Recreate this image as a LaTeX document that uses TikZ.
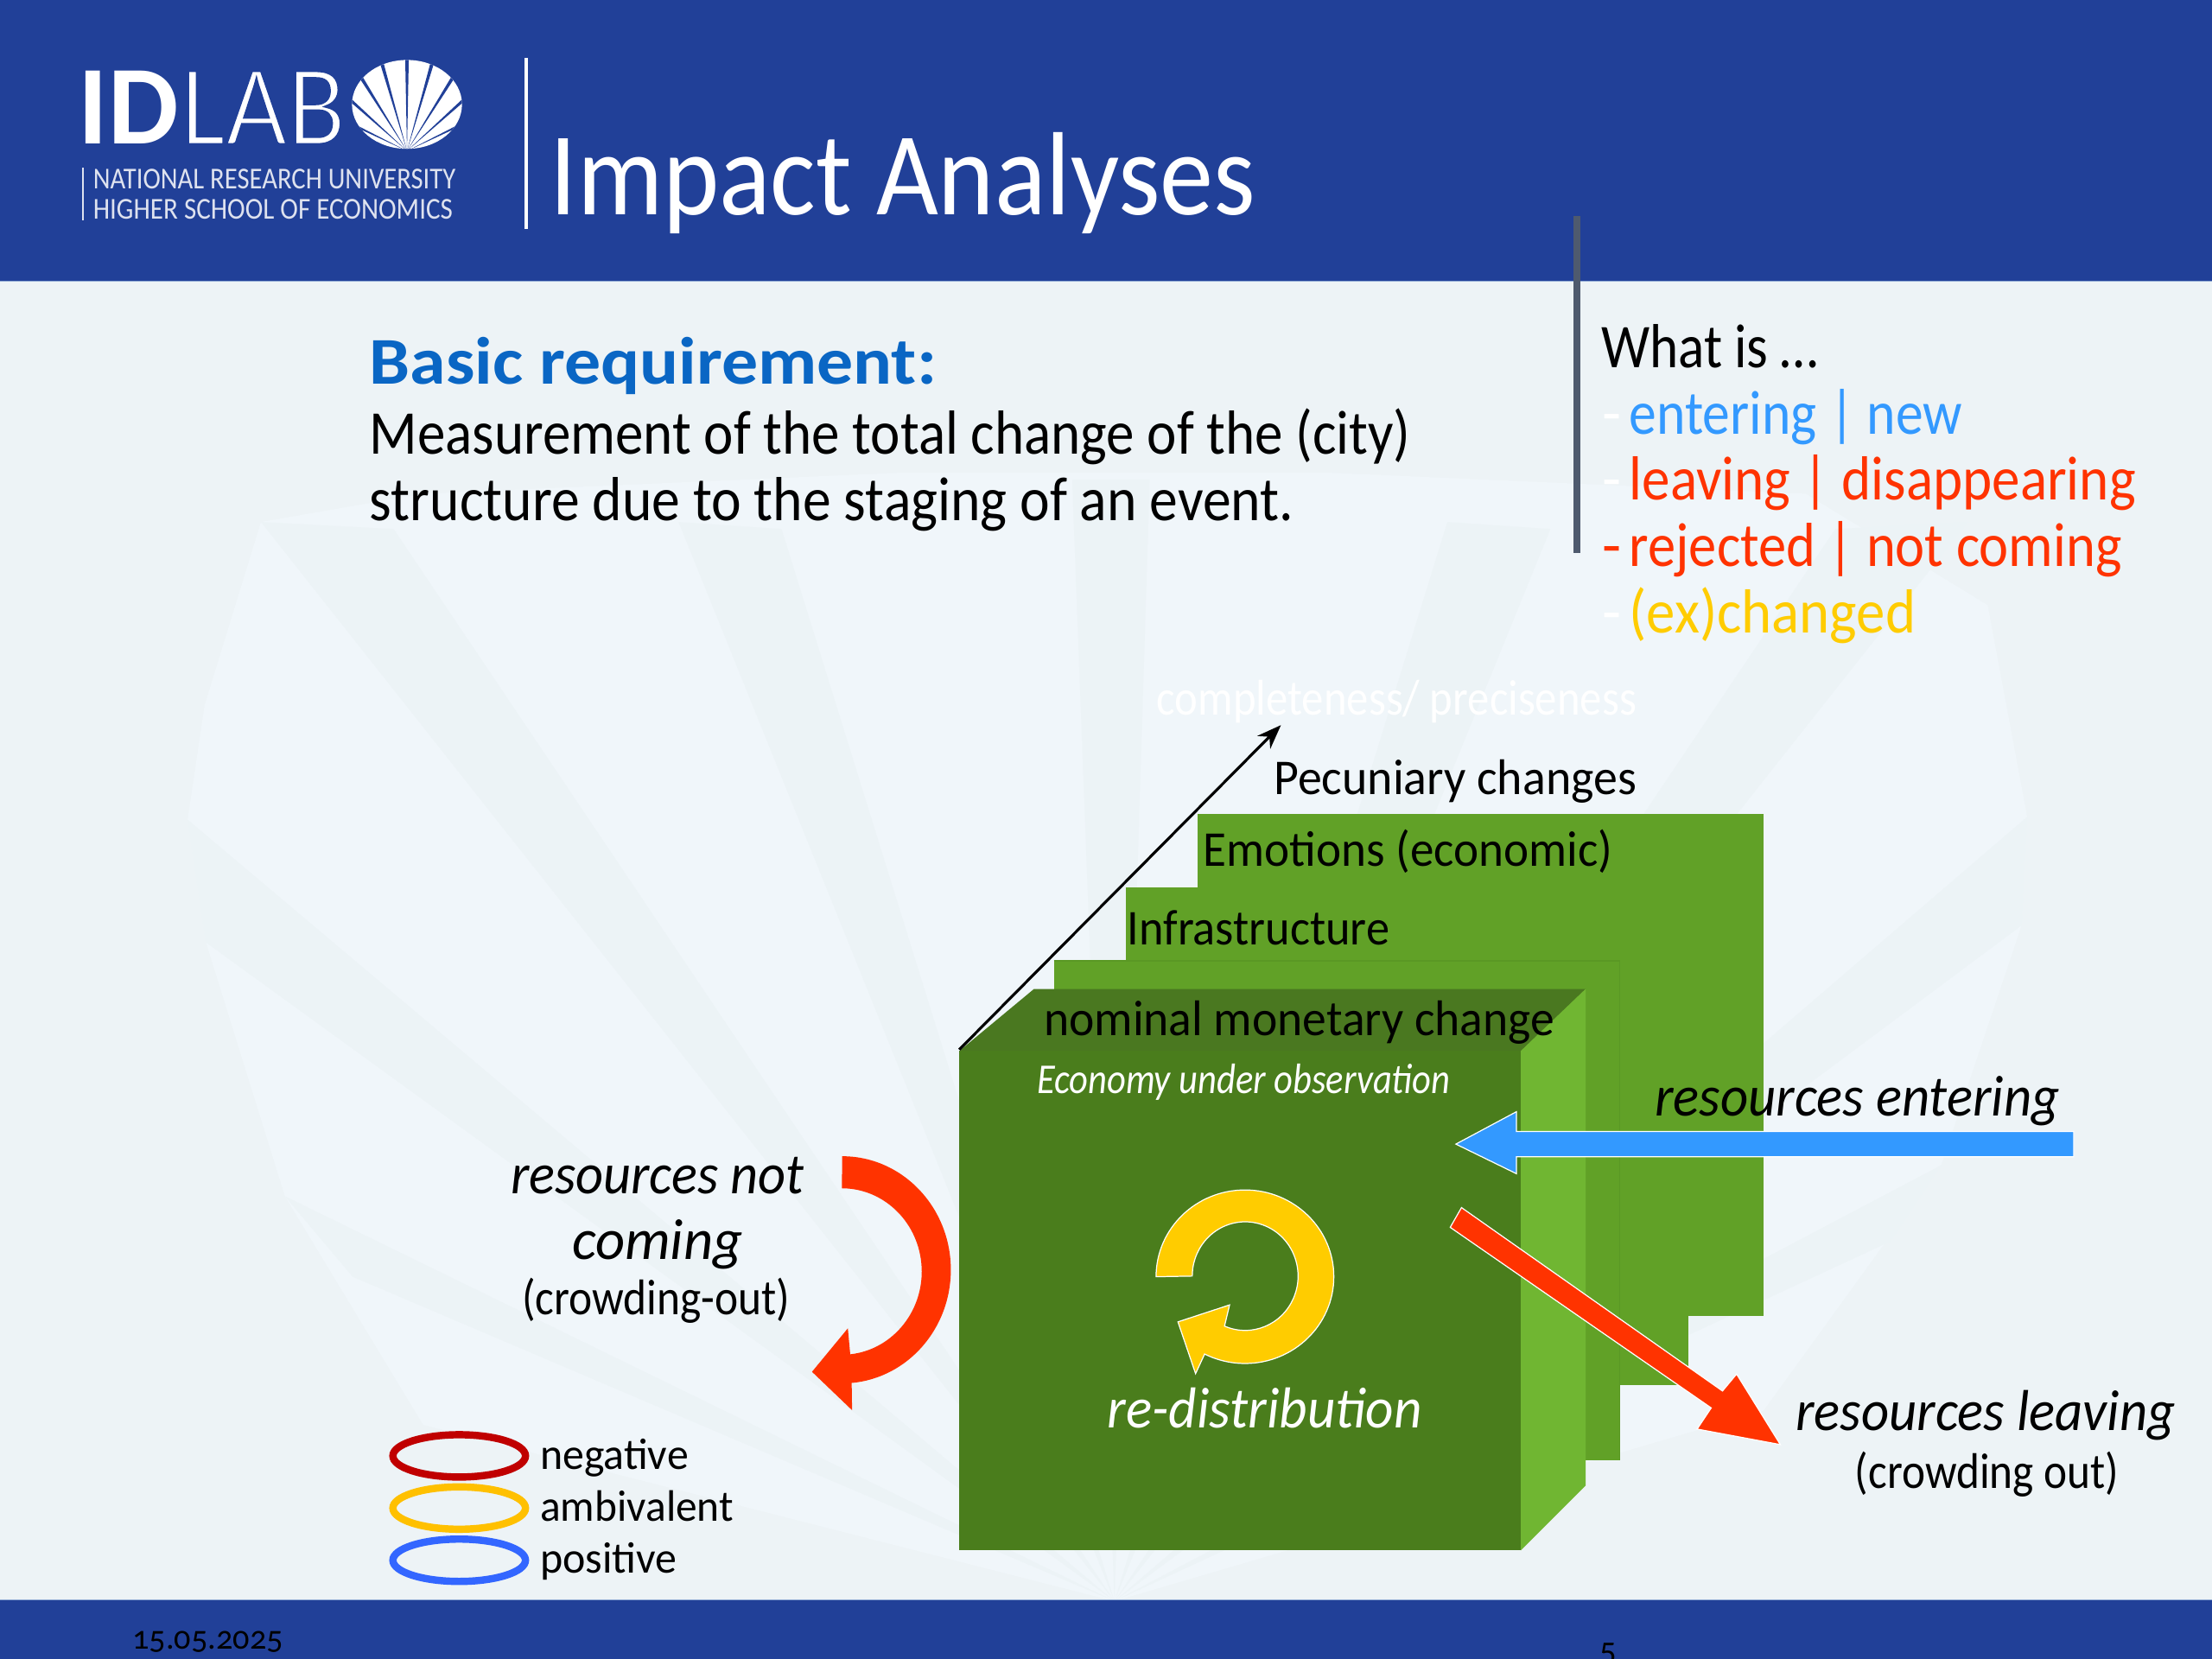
\documentclass[tikz,border=0pt]{standalone}
\usepackage{fontspec}
\usepackage{graphicx}
\usetikzlibrary{calc,arrows.meta}
\setmainfont{Carlito}
\newlength{\un}\setlength{\un}{0.016327cm}
\newcommand{\tx}[2]{\resizebox{#1\un}{\height}{#2}}
\newcommand{\thinner}[1]{\special{pdf:code q 2 Tr 1.0 w 0.129 0.251 0.596 RG}#1\special{pdf:code Q}}
\definecolor{hdr}{RGB}{33,64,152}
\definecolor{hln}{RGB}{150,175,215}
\definecolor{bgc}{RGB}{237,243,246}
\definecolor{bgl}{RGB}{240,246,250}
\definecolor{bgr}{RGB}{236,243,246}
\definecolor{lay}{RGB}{97,161,39}
\definecolor{layd}{RGB}{90,152,36}
\definecolor{front}{RGB}{74,125,28}
\definecolor{topf}{RGB}{74,120,32}
\definecolor{sidef}{RGB}{112,182,50}
\definecolor{blu}{RGB}{51,153,255}
\definecolor{redd}{RGB}{255,51,0}
\definecolor{yel}{RGB}{255,204,0}
\definecolor{ttl}{RGB}{10,102,196}
\definecolor{vln}{RGB}{78,90,110}
\tikzset{
 lbl/.style={anchor=base west,inner sep=0pt,outer sep=0pt,text=black,font=\fontsize{20.5}{20.5}\selectfont},
 lblc/.style={lbl,anchor=base},
 small/.style={font=\fontsize{16.5}{16.5}\selectfont},
 layer/.style={fill=lay,draw=none},
 fat/.style={draw=white,line width=0.35pt,line join=miter},
 legend/.style={line width=2.4pt,fill=none},
 ray/.style={fill=bgr},
}
\begin{document}
\begin{tikzpicture}[x=0.016327cm,y=-0.016327cm]
\useasboundingbox (0,0) rectangle (1568,1176);
\clip (0,0) rectangle (1568,1176);
% background
\fill[bgc] (0,0) rectangle (1568,1176);
\coordinate (ap) at (790,1135);
\fill[bgl] (ap) -- (300,1010) -- (202,848) -- (146,668) -- (133,581) -- (145,500) -- (185,370) -- (300,350) -- (640,335) -- (940,335) -- (1280,350) -- (1409,429) -- (1437,579) -- (1433,656) -- (1376,826) -- (1250,1000) -- cycle;
\fill[ray] (ap) -- (185,370) -- (279,375) -- cycle;
\fill[ray] (ap) -- (481,370) -- (554,375) -- cycle;
\fill[ray] (ap) -- (760,340) -- (815,340) -- cycle;
\fill[ray] (ap) -- (1026,370) -- (1099,375) -- cycle;
\fill[ray] (ap) -- (1301,375) -- (1395,370) -- cycle;
\fill[ray] (ap) -- (133,581) -- (146,668) -- cycle;
\fill[ray] (ap) -- (1437,579) -- (1433,656) -- cycle;
\fill[ray] (ap) -- (202,848) -- (250,905) -- cycle;
\fill[ray] (ap) -- (1376,826) -- (1340,880) -- cycle;
% header and footer
\fill[hdr] (0,0) rectangle (1568,199);
\fill[hdr] (0,1134) rectangle (1568,1176);
\draw[hln,line width=0.4pt] (0,199.5) -- (1568,199.5);
\draw[hln,line width=0.4pt] (0,1134) -- (1568,1134);
% logo
\node[lbl,text=white] (id) at (55.5,102) {\tx{71}{\fontsize{37}{37}\selectfont\bfseries ID}};
\node[lbl,text=white] (lab) at (128,102.5) {\tx{117}{\fontsize{38}{38}\selectfont\thinner{LAB}}};
\begin{scope}
 \clip (288.5,74) ellipse[x radius=39,y radius=31.5];
 \fill[white] (240,40) rectangle (335,107);
 \foreach \a in {10,26,42,58,74,90,106,122,138,154,170}{
  \fill[hdr] (288.5,107) -- ($(288.5,107)+({80*cos(\a-1.1)},{-80*sin(\a-1.1)})$) -- ($(288.5,107)+({80*cos(\a+1.1)},{-80*sin(\a+1.1)})$) -- cycle;
 }
\end{scope}
\draw[white!85!hdr,line width=0.5pt] (59,119) -- (59,156);
\node[lbl,text=white!85!hdr] (nru) at (66,134) {\tx{257}{\fontsize{10}{10}\selectfont NATIONAL RESEARCH UNIVERSITY}};
\node[lbl,text=white!85!hdr] (hse) at (66,155) {\tx{255}{\fontsize{10}{10}\selectfont HIGHER SCHOOL OF ECONOMICS}};
\draw[white,line width=1pt] (373,41) -- (373,162);
\node[lbl,text=white] (title) at (390,152.5) {\tx{500}{\fontsize{39}{39}\selectfont Impact Analyses}};
\draw[vln,line width=2.2pt] (1118,153) -- (1118,392);
% text blocks
\node[lbl,text=ttl] (br) at (262,272) {\tx{402}{\fontsize{22}{22}\selectfont\bfseries Basic requirement:}};
\node[lbl] (m1) at (262,322) {\tx{738}{Measurement of the total change of the (city)}};
\node[lbl] (m2) at (262,369) {\tx{655}{structure due to the staging of an event.}};
\node[lbl] (w0) at (1135,260.5) {\tx{154}{What is …}};
\node[lbl,text=white] (d1) at (1136,307.5) {-};
\node[lbl,text=blu] (w1) at (1155,307.5) {\tx{236}{entering | new}};
\node[lbl,text=white] (d2) at (1136,354.5) {-};
\node[lbl,text=redd] (w2) at (1155,354.5) {\tx{359}{leaving | disappearing}};
\node[lbl,text=redd] (d3) at (1136,401.5) {-};
\node[lbl,text=redd] (w3) at (1155,401.5) {\tx{349}{rejected | not coming}};
\node[lbl,text=white] (d4) at (1136,448.5) {-};
\node[lbl,text=yel] (w4) at (1155,448.5) {\tx{203}{(ex)changed}};
\node[lbl,text=white,small] (cp) at (820,507) {\tx{340}{completeness/ preciseness}};
% layers
\fill[layer] (849,577) rectangle (1250,933);
\fill[layer] (798,629) rectangle (1197,982);
\fill[layer] (747,681) rectangle (1148,1035);
\draw[layd,line width=0.4pt] (747,681) -- (1148,681) -- (1148,1035);
\fill[topf] (680,745) -- (733,701) -- (1124,701) -- (1078,745) -- cycle;
\fill[sidef] (1078,745) -- (1124,701) -- (1124,1053) -- (1078,1099) -- cycle;
\fill[front] (680,745) rectangle (1078,1099);
% depth arrow
\coordinate (da) at (680,744);
\coordinate (db) at (908,514);
\draw[-{Stealth[length=8pt,width=6pt]},line width=0.9pt] (da) -- (db);
\node[lbl,small] (pc) at (903,563) {\tx{257}{Pecuniary changes}};
\node[lbl,small] (em) at (853,614) {\tx{290}{Emotions (economic)}};
\node[lbl,small] (inf) at (799,670) {\tx{186}{Infrastructure}};
\node[lbl,small] (nm) at (740,734) {\tx{362}{nominal monetary change}};
\node[lbl,text=white,font=\fontsize{14}{14}\selectfont\itshape] (eo) at (735,775) {\tx{293}{Economy under observation}};
% blue arrow
\fill[blu,fat] (1032,811) -- (1075,788) -- (1075,802) -- (1470,802) -- (1470,820) -- (1075,820) -- (1075,832) -- cycle;
\node[lbl,font=\fontsize{19}{19}\selectfont\itshape] (re) at (1173,791) {\tx{287}{resources entering}};
% yellow loop
\path[fill=yel,fat] (819.5,905) arc[start angle=180,end angle=477,x radius=63,y radius=61.5]
  -- (847.5,973.7) -- (835,937) -- (871.6,925) -- (868,940)
  arc[start angle=473,end angle=180,x radius=37.5,y radius=38.5] -- cycle;
\node[lbl,text=white,font=\fontsize{19}{19}\selectfont\itshape] (rd) at (785,1012) {\tx{223}{re-distribution}};
% red arrow leaving
\fill[redd,fat] (1036,856) -- (1221,986) -- (1231,974) -- (1262,1024) -- (1203,1013) -- (1213,998) -- (1028,870) -- cycle;
\node[lbl,font=\fontsize{19}{19}\selectfont\itshape] (rl) at (1273,1014) {\tx{269}{resources leaving}};
\node[lbl,small] (cl) at (1315,1055) {\tx{187}{(crowding out)}};
% red curved arrow
\path[fill=redd] (597,819.6) arc[start angle=270,end angle=445,x radius=77,y radius=80.5]
  -- (604,999.6) -- (575.6,972.4) -- (601,941.6) -- (602.7,960)
  arc[start angle=444,end angle=270,x radius=56.6,y radius=59] -- cycle;
\node[lbl,font=\fontsize{19}{19}\selectfont\itshape] (rn) at (362,846) {\tx{208}{resources not}};
\node[lblc,font=\fontsize{19}{19}\selectfont\itshape] (rc) at (466,892.5) {\tx{121}{coming}};
\node[lbl,small] (cr) at (370,932) {\tx{190}{(crowding-out)}};
% legend
\coordinate (e1) at (325.5,1032);
\coordinate (e2) at (325.5,1069);
\coordinate (e3) at (325.5,1106);
\draw[legend,draw={rgb,255:red,192;green,0;blue,0}] (e1) ellipse[x radius=47,y radius=15];
\draw[legend,draw={rgb,255:red,255;green,192;blue,0}] (e2) ellipse[x radius=47,y radius=15];
\draw[legend,draw={rgb,255:red,51;green,102;blue,255}] (e3) ellipse[x radius=47,y radius=15];
\node[lbl,font=\fontsize{14.5}{14.5}\selectfont] (ln) at (383,1041.5) {\tx{105}{negative}};
\node[lbl,font=\fontsize{14.5}{14.5}\selectfont] (la) at (383,1078) {\tx{137}{ambivalent}};
\node[lbl,font=\fontsize{14.5}{14.5}\selectfont] (lp) at (383,1115) {\tx{97}{positive}};
% footer
\node[lbl,font=\fontsize{11}{11}\selectfont\addfontfeatures{Numbers=OldStyle}] (dt) at (94,1169) {\tx{107}{15.05.2025}};
\node[lbl,font=\fontsize{11}{11}\selectfont] (pg) at (1134,1180) {5};
\end{tikzpicture}
\end{document}
